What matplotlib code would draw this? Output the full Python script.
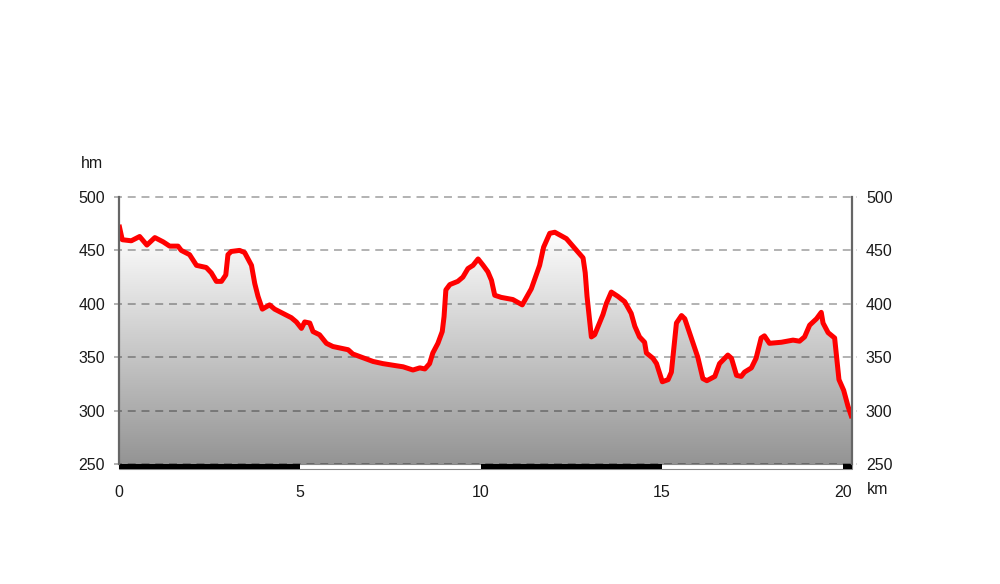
"""Elevation profile: red line over a grey gradient fill, km on x, hm on y."""

import matplotlib
matplotlib.use("Agg")
import matplotlib.pyplot as plt
import numpy as np
from matplotlib.colors import LinearSegmentedColormap
from matplotlib.patches import Rectangle

plt.rcParams["font.family"] = ["Liberation Sans", "DejaVu Sans"]

# ── Data ─────────────────────────────────────────────────────────────────────
dist_km = [
    0.00, 0.09, 0.34, 0.57, 0.77, 0.99, 1.22, 1.40, 1.63, 1.72, 1.95, 2.14,
    2.41, 2.55, 2.69, 2.83, 2.95, 3.01, 3.10, 3.33, 3.47, 3.66, 3.75, 3.84,
    3.96, 4.16, 4.30, 4.53, 4.76, 4.90, 5.04, 5.13, 5.27, 5.36, 5.54, 5.73,
    5.91, 6.33, 6.46, 6.70, 7.02, 7.29, 7.66, 7.85, 8.12, 8.31, 8.45, 8.58,
    8.67, 8.81, 8.93, 8.98, 9.03, 9.14, 9.36, 9.50, 9.64, 9.78, 9.92, 10.06,
    10.19, 10.29, 10.38, 10.56, 10.88, 11.14, 11.39, 11.62, 11.73, 11.90,
    12.04, 12.36, 12.64, 12.82, 12.88, 12.93, 13.05, 13.14, 13.37, 13.46,
    13.60, 13.78, 13.97, 14.15, 14.25, 14.38, 14.52, 14.57, 14.75, 14.85,
    15.01, 15.17, 15.26, 15.40, 15.54, 15.63, 15.81, 15.99, 16.13, 16.24,
    16.46, 16.59, 16.82, 16.92, 17.06, 17.19, 17.28, 17.47, 17.60, 17.74,
    17.83, 17.97, 18.30, 18.62, 18.80, 18.94, 19.08, 19.27, 19.40, 19.45,
    19.59, 19.77, 19.89, 20.02, 20.14, 20.25,
]
elev_hm = [
    474, 460, 459, 463, 455, 462, 458, 454, 454, 450, 446, 436,
    434, 429, 421, 421, 427, 446, 449, 450, 448, 436, 419, 407,
    395, 399, 395, 391, 387, 383, 377, 383, 382, 374, 371, 363,
    360, 357, 353, 350, 346, 344, 342, 341, 338, 340, 339, 344,
    354, 363, 374, 388, 413, 418, 421, 425, 433, 436, 442, 436,
    430, 422, 408, 406, 404, 399, 414, 436, 453, 466,
    467, 461, 450, 443, 429, 407, 369, 371, 390, 400,
    411, 407, 402, 391, 379, 369, 364, 354, 349, 344,
    327, 329, 336, 382, 389, 386, 368, 350, 330, 328,
    332, 344, 352, 349, 333, 332, 336, 340, 349, 368,
    370, 363, 364, 366, 365, 369, 380, 386, 392, 382,
    373, 368, 329, 319, 304, 293,
]
y_ticks = [250, 300, 350, 400, 450, 500]
x_ticks = [0, 5, 10, 15, 20]
scale_marks = [0, 5, 10, 15, 20]   # alternating black/white 5 km scale bar
# ─────────────────────────────────────────────────────────────────────────────

X_MAX = dist_km[-1]
Y_MIN, Y_MAX = 250, 500
FS = 11.5
TXT = "#1a1a1a"

fig = plt.figure(figsize=(10, 5.84), dpi=100)
ax = fig.add_axes([0.119, 1 - 464 / 584, 0.733, (464 - 197) / 584])
ax.set_xlim(0, X_MAX)
ax.set_ylim(Y_MIN, Y_MAX)

# gradient fill clipped to the area under the profile
cmap = LinearSegmentedColormap.from_list("fade", ["#949494", "#ffffff"])
grad = np.linspace(0, 1, 256).reshape(-1, 1)
img = ax.imshow(grad, cmap=cmap, aspect="auto", origin="lower",
                extent=[0, X_MAX, Y_MIN, 470], zorder=1)
poly = ax.fill_between(dist_km, elev_hm, Y_MIN, color="none", lw=0)
img.set_clip_path(poly.get_paths()[0], transform=ax.transData)

# dashed grid, slightly wider than the plot
for y in y_ticks:
    ax.axhline(y, xmin=-0.007, xmax=1.007, color="k", alpha=0.38, lw=1.1,
               linestyle=(0, (5.2, 3.8)), clip_on=False, zorder=2)

ax.plot(dist_km, elev_hm, color="#ff0000", lw=3.6, solid_joinstyle="round",
        solid_capstyle="butt", zorder=3)

# scale bar under the axis
bar_h = 4.7
ax.add_patch(Rectangle((0, Y_MIN - bar_h), X_MAX, bar_h, facecolor="white",
                       edgecolor="#888888", lw=0.8, clip_on=False, zorder=4))
for i, start in enumerate(scale_marks):
    if i % 2 == 0:
        end = min(start + 5, X_MAX)
        ax.add_patch(Rectangle((start, Y_MIN - bar_h), end - start, bar_h,
                               facecolor="black", edgecolor="none",
                               clip_on=False, zorder=5))

for side in ["top", "bottom"]:
    ax.spines[side].set_visible(False)
for side in ["left", "right"]:
    ax.spines[side].set_color("#666666")
    ax.spines[side].set_linewidth(1.6)
    ax.spines[side].set_zorder(6)

ax.set_yticks(y_ticks)
ax.set_xticks(x_ticks)
ax.tick_params(axis="y", length=0, pad=10, labelsize=FS, colors=TXT,
               labelright=True)
ax.tick_params(axis="x", length=0, pad=15, labelsize=FS, colors=TXT)

fig.text(92 / 1000, 1 - 164 / 584, "hm", ha="center", va="center",
         fontsize=FS, color=TXT)
fig.text(878 / 1000, 1 - 490 / 584, "km", ha="center", va="center",
         fontsize=FS, color=TXT)

fig.savefig("out.png", dpi=100)
